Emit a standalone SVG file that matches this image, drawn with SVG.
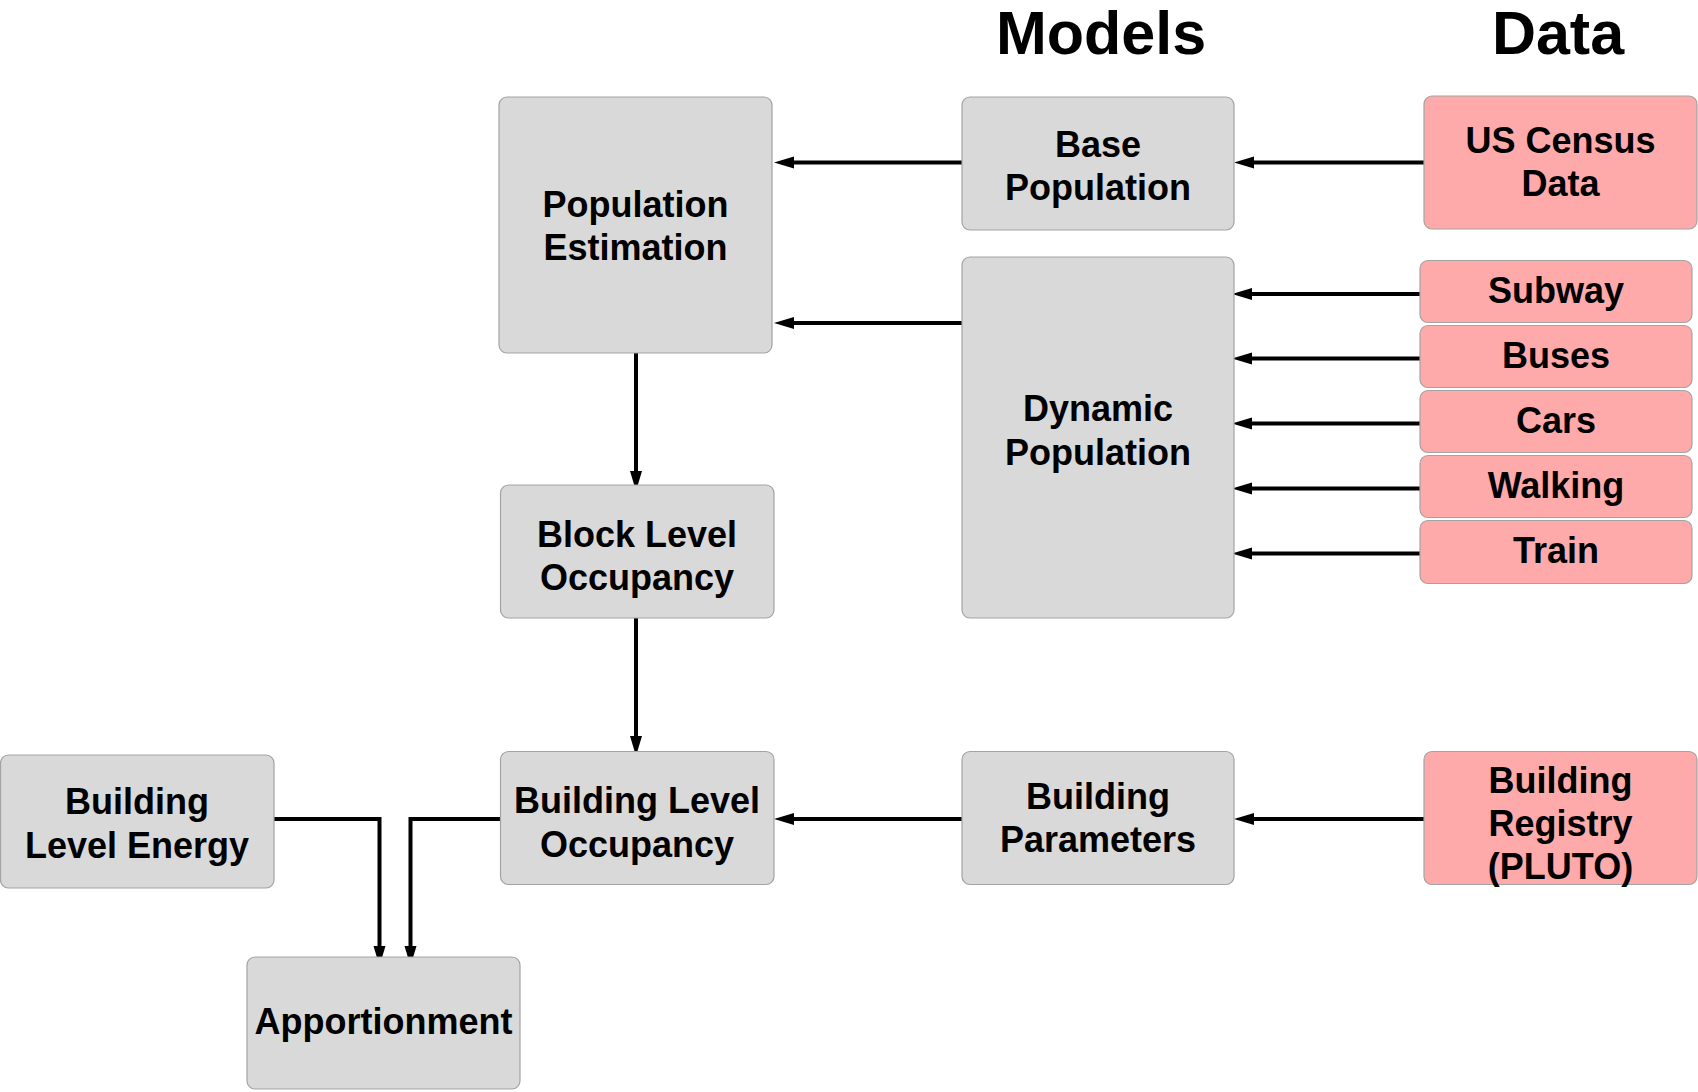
<svg xmlns="http://www.w3.org/2000/svg" width="1698" height="1092" viewBox="0 0 1698 1092">
<style>
  .model rect { fill: #d9d9d9; stroke: #a3a3a3; stroke-width: 1.2; }
  .data rect { fill: #ffaaaa; stroke: #a3a3a3; stroke-width: 1.2; }
  text { font-family: "Liberation Sans", Arial, Helvetica, sans-serif; font-weight: bold; fill: #000; text-anchor: middle; }
  .lbl { font-size: 36px; }
  .title { font-size: 61px; }
  .conn path { fill: none; stroke: #000; stroke-width: 4; marker-end: url(#arr); }
</style>
<defs>
  <marker id="arr" markerUnits="userSpaceOnUse" markerWidth="22" markerHeight="14" refX="1" refY="6" orient="auto">
    <path d="M0,0 L20,6 L0,12 z" fill="#000"/>
  </marker>
</defs>
<rect width="1698" height="1092" fill="#fff"/>

<g id="titles">
  <text class="title" x="1101" y="54">Models</text>
  <text class="title" x="1558" y="54">Data</text>
</g>

<g class="conn" id="connectors">
  <path d="M963,162.5 H793"/>
  <path d="M963,323 H793"/>
  <path d="M1424,162.5 H1253"/>
  <path d="M1420,294 H1251"/>
  <path d="M1420,358.5 H1251"/>
  <path d="M1420,423.5 H1251"/>
  <path d="M1420,488.5 H1251"/>
  <path d="M1420,553.5 H1251"/>
  <path d="M636,353 V472"/>
  <path d="M636,618 V737"/>
  <path d="M963,819 H793"/>
  <path d="M1424,819 H1253"/>
  <path d="M274,819 H379.5 V947"/>
  <path d="M500.5,819 H410.5 V947"/>
</g>

<g id="pop-est" class="model">
  <rect x="499" y="97" width="273" height="256" rx="8"/>
  <text class="lbl" x="635.5" y="216.5">Population</text>
  <text class="lbl" x="635.5" y="260">Estimation</text>
</g>
<g id="base-pop" class="model">
  <rect x="962" y="97" width="272" height="133" rx="8"/>
  <text class="lbl" x="1098" y="157">Base</text>
  <text class="lbl" x="1098" y="200">Population</text>
</g>
<g id="us-census" class="data">
  <rect x="1424" y="96" width="273" height="133" rx="8"/>
  <text class="lbl" x="1560.5" y="153">US Census</text>
  <text class="lbl" x="1560.5" y="196">Data</text>
</g>
<g id="dyn-pop" class="model">
  <rect x="962" y="257" width="272" height="361" rx="8"/>
  <text class="lbl" x="1098" y="421">Dynamic</text>
  <text class="lbl" x="1098" y="464.5">Population</text>
</g>
<g id="subway" class="data">
  <rect x="1420" y="260.5" width="272" height="62" rx="8"/>
  <text class="lbl" x="1556" y="303">Subway</text>
</g>
<g id="buses" class="data">
  <rect x="1420" y="325.5" width="272" height="62" rx="8"/>
  <text class="lbl" x="1556" y="368">Buses</text>
</g>
<g id="cars" class="data">
  <rect x="1420" y="390.5" width="272" height="62" rx="8"/>
  <text class="lbl" x="1556" y="433">Cars</text>
</g>
<g id="walking" class="data">
  <rect x="1420" y="455.5" width="272" height="62" rx="8"/>
  <text class="lbl" x="1556" y="498">Walking</text>
</g>
<g id="train" class="data">
  <rect x="1420" y="520.5" width="272" height="63" rx="8"/>
  <text class="lbl" x="1556" y="563">Train</text>
</g>
<g id="block-occ" class="model">
  <rect x="500.5" y="485" width="273.5" height="133" rx="8"/>
  <text class="lbl" x="637" y="547">Block Level</text>
  <text class="lbl" x="637" y="590">Occupancy</text>
</g>
<g id="bldg-occ" class="model">
  <rect x="500.5" y="751.5" width="273.5" height="133" rx="8"/>
  <text class="lbl" x="637" y="813">Building Level</text>
  <text class="lbl" x="637" y="856.5">Occupancy</text>
</g>
<g id="bldg-params" class="model">
  <rect x="962" y="751.5" width="272" height="133" rx="8"/>
  <text class="lbl" x="1098" y="809">Building</text>
  <text class="lbl" x="1098" y="852">Parameters</text>
</g>
<g id="bldg-registry" class="data">
  <rect x="1424" y="751.5" width="273" height="133" rx="8"/>
  <text class="lbl" x="1560.5" y="793">Building</text>
  <text class="lbl" x="1560.5" y="836">Registry</text>
  <text class="lbl" x="1560.5" y="879">(PLUTO)</text>
</g>
<g id="bldg-energy" class="model">
  <rect x="0.5" y="755" width="273.5" height="133" rx="8"/>
  <text class="lbl" x="137" y="814">Building</text>
  <text class="lbl" x="137" y="857.5">Level Energy</text>
</g>
<g id="apportionment" class="model">
  <rect x="247" y="957" width="273" height="132" rx="8"/>
  <text class="lbl" x="383.5" y="1034">Apportionment</text>
</g>
</svg>
